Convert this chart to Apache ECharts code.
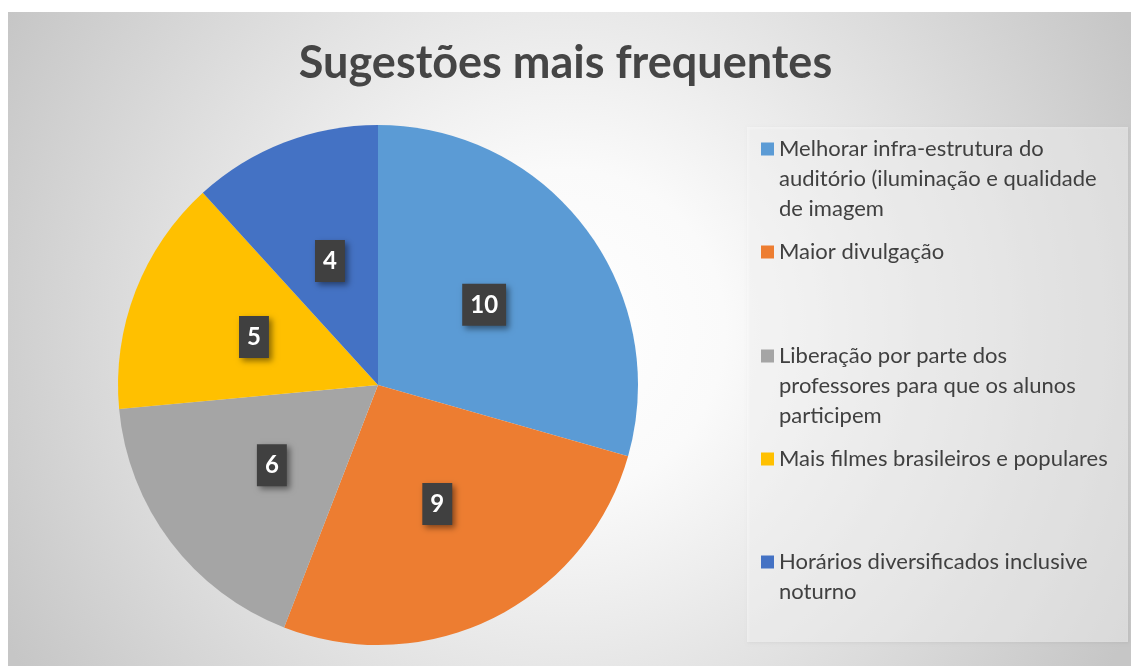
<!DOCTYPE html>
<html>
<head>
<meta charset="utf-8">
<script src="https://cdn.jsdelivr.net/npm/echarts@6/dist/echarts.min.js"></script>
<style>
html,body{margin:0;padding:0;background:#ffffff;}
#chart{width:1131px;height:666px;}
</style>
</head>
<body>
<div id="chart"></div>
<script>
var titleText = 'Sugestões mais frequentes';
var categories = [
  'Melhorar infra-estrutura do\nauditório (iluminação e qualidade\nde imagem',
  'Maior divulgação',
  'Liberação por parte dos\nprofessores para que os alunos\nparticipem',
  'Mais filmes brasileiros e populares',
  'Horários diversificados inclusive\nnoturno'
];
var values = [10, 9, 6, 5, 4];
var colors = ['#5B9BD5', '#ED7D31', '#A5A5A5', '#FFC000', '#4472C4'];

var LH = 30;
var legendFirstLine = [149, 252, 356, 459, 562];

var chart = echarts.init(document.getElementById('chart'), null, {renderer: 'canvas'});

var legends = categories.map(function (name, i) {
  var k = name.split('\n').length;
  return {
    data: [name],
    orient: 'vertical',
    left: 761,
    top: legendFirstLine[i] - (k - 1) * LH - LH / 2,
    padding: 0,
    icon: 'rect',
    itemWidth: 13,
    itemHeight: 13,
    formatter: function (n) {
      var kk = n.split('\n').length;
      var pre = '';
      for (var j = 0; j < kk - 1; j++) pre += ' \n';
      return pre + n;
    },
    textStyle: {
      fontFamily: 'Lato',
      fontSize: 22,
      color: '#404040',
      lineHeight: LH
    }
  };
});

var option = {
  backgroundColor: '#ffffff',
  animation: false,
  color: colors,
  title: {
    text: titleText,
    left: 'center',
    top: 36,
    textStyle: {
      fontFamily: 'Lato',
      fontWeight: 'bold',
      fontSize: 45,
      color: '#454545'
    }
  },
  graphic: [
    {
      type: 'rect',
      z: -10,
      silent: true,
      shape: {x: 8, y: 12, width: 1123, height: 654},
      style: {
        fill: {
          type: 'radial', x: 565, y: 330, r: 640, global: true,
          colorStops: [
            {offset: 0, color: '#ffffff'},
            {offset: 0.25, color: '#fafafa'},
            {offset: 1, color: '#c6c6c6'}
          ]
        }
      }
    },
    {
      type: 'rect',
      z: -9,
      silent: true,
      shape: {x: 747, y: 127, width: 381, height: 515},
      style: {
        fill: 'rgba(255,255,255,0.45)',
        shadowColor: 'rgba(0,0,0,0.12)',
        shadowBlur: 3,
        shadowOffsetX: 1,
        shadowOffsetY: 1
      }
    }
  ],
  legend: legends,
  series: [{
    type: 'pie',
    center: [378, 385],
    radius: [0, 260],
    startAngle: 90,
    clockwise: true,
    avoidLabelOverlap: false,
    itemStyle: {borderWidth: 0},
    label: {
      show: true,
      position: 'inside',
      formatter: '{c}',
      fontFamily: 'Lato',
      fontWeight: 'bold',
      fontSize: 24,
      lineHeight: 24,
      color: '#ffffff',
      backgroundColor: '#404040',
      padding: [9, 8],
      shadowColor: 'rgba(0,0,0,0.45)',
      shadowBlur: 6,
      shadowOffsetX: 3,
      shadowOffsetY: 3
    },
    labelLine: {show: false},
    data: categories.map(function (c, i) {
      return {name: c, value: values[i]};
    })
  }]
};
chart.setOption(option);
</script>
</body>
</html>
